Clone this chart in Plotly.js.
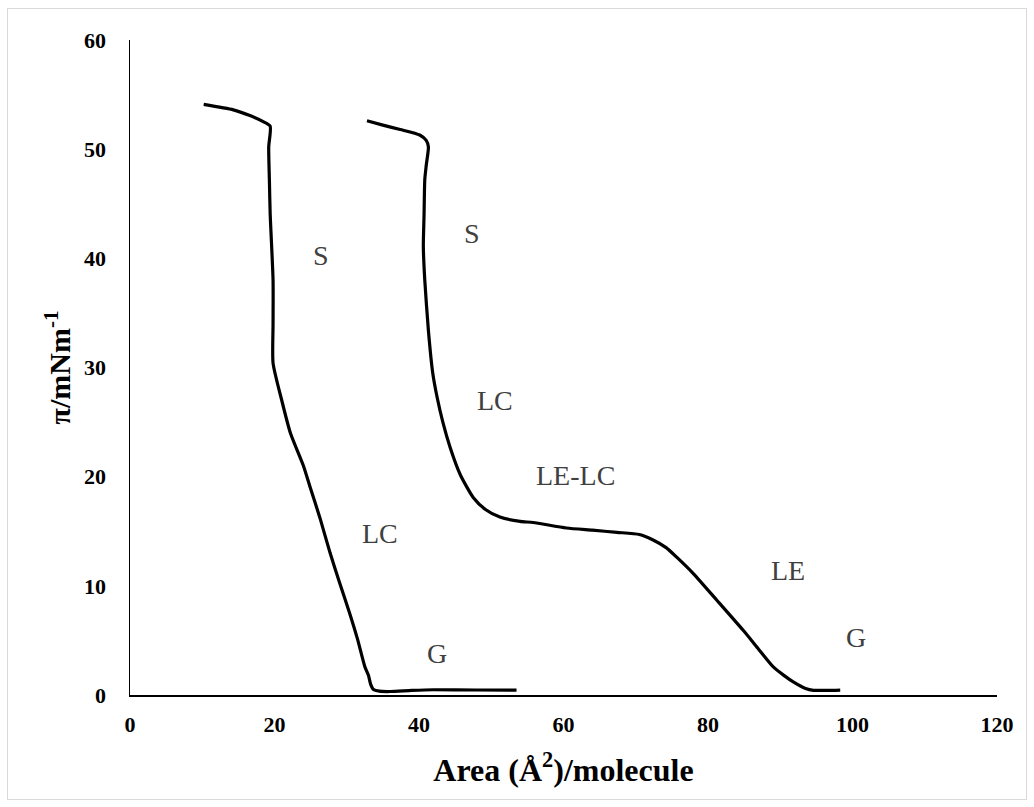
<!DOCTYPE html>
<html>
<head>
<meta charset="utf-8">
<script src="https://cdn.plot.ly/plotly-3.0.1.min.js"></script>
<style>
  html, body { margin: 0; padding: 0; background: #fff; }
  #wrap { position: relative; width: 1034px; height: 807px; }
  #chart { width: 1034px; height: 807px; }
  #frame { position: absolute; left: 7px; top: 8px; width: 1018px; height: 790px; border: 1px solid #d9d9d9; pointer-events: none; }
</style>
</head>
<body>
<div id="wrap"><div id="chart"></div><div id="frame"></div></div>
<script>
// Isotherm 1 (left curve)
const area1 = [10.2, 14.3, 16.5, 18.5, 19.4, 19.2, 19.3, 19.4, 19.8, 19.8, 19.8, 21.0, 22.2, 24.0, 24.9, 26.3, 27.7, 29.0, 30.4, 31.5, 32.5, 33.0, 33.3, 33.7, 34.5, 36.0, 39.0, 42.0, 48.0, 53.5];
const pi1   = [54.1, 53.6, 53.1, 52.5, 52.1, 50.2, 47.0, 44.1, 38.0, 34.0, 30.4, 27.0, 24.0, 21.0, 19.1, 16.2, 13.0, 10.3, 7.5, 5.1, 2.6, 1.8, 1.0, 0.5, 0.35, 0.32, 0.42, 0.48, 0.46, 0.45];

// Isotherm 2 (right curve)
const area2 = [32.8, 35.0, 37.4, 40.1, 41.0, 41.3, 41.0, 40.8, 40.7, 40.6, 40.8, 41.3, 41.9, 42.5, 43.3, 44.3, 45.7, 47.5, 49.2, 51.2, 54.0, 55.8, 60.4, 64.0, 67.4, 70.5, 72.4, 74.2, 75.7, 78.0, 81.2, 84.9, 87.0, 89.0, 90.5, 91.8, 93.5, 94.6, 96.5, 98.3];
const pi2   = [52.6, 52.2, 51.8, 51.3, 50.8, 50.2, 48.5, 47.2, 44.0, 41.1, 38.0, 33.4, 29.5, 27.3, 25.0, 22.7, 20.2, 18.1, 17.0, 16.3, 15.9, 15.8, 15.3, 15.1, 14.9, 14.7, 14.2, 13.5, 12.6, 11.1, 8.7, 5.9, 4.2, 2.6, 1.8, 1.2, 0.6, 0.43, 0.42, 0.45];

// Phase labels
const labelText = ["S", "S", "LC", "LE-LC", "LC", "LE", "G", "G"];
const labelX    = [26.5, 47.3, 50.5, 61.6, 34.6, 91.1, 42.5, 100.5];
const labelY    = [40.3, 42.3, 27.0, 20.1, 14.8, 11.4, 3.8, 5.3];

// Axis ticks
const xTicks = [0, 20, 40, 60, 80, 100, 120];
const yTicks = [0, 10, 20, 30, 40, 50, 60];

const serif = 'Liberation Serif, Times New Roman, serif';
const lineStyle = { color: '#000000', width: 3.2, shape: 'spline', smoothing: 0.6 };

const traces = [
  { x: area1, y: pi1, type: 'scatter', mode: 'lines', line: lineStyle, hoverinfo: 'skip' },
  { x: area2, y: pi2, type: 'scatter', mode: 'lines', line: lineStyle, hoverinfo: 'skip' }
];

const annotations = labelText.map((t, i) => ({
  x: labelX[i], y: labelY[i], xref: 'x', yref: 'y', text: t, showarrow: false,
  font: { family: serif, size: 28, color: '#404040' },
  xanchor: 'center', yanchor: 'middle'
}));

const layout = {
  width: 1034, height: 807,
  margin: { l: 130, r: 37, t: 40, b: 112 },
  paper_bgcolor: '#ffffff', plot_bgcolor: '#ffffff',
  showlegend: false,
  font: { family: serif, color: '#000000' },
  xaxis: {
    range: [0, 120], tickvals: xTicks, ticktext: xTicks.map(String),
    showgrid: false, zeroline: false, showline: true, linecolor: '#000000', linewidth: 1.5,
    ticks: '', ticklabelstandoff: 9,
    tickfont: { family: serif, size: 22, color: '#000000', weight: 'bold' },
    title: { text: '<b>Area (Å<sup>2</sup>)/molecule</b>', standoff: 22,
      font: { family: serif, size: 32, color: '#000000' } }
  },
  yaxis: {
    range: [0, 60], tickvals: yTicks, ticktext: yTicks.map(String),
    showgrid: false, zeroline: false, showline: true, linecolor: '#000000', linewidth: 1.5,
    ticks: '', ticklabelstandoff: 18,
    tickfont: { family: serif, size: 22, color: '#000000', weight: 'bold' },
    title: { text: '<b>π/mNm<sup>-1</sup></b>', standoff: 4,
      font: { family: serif, size: 30, color: '#000000' } }
  },
  annotations: annotations
};

Plotly.newPlot('chart', traces, layout, { staticPlot: true, displayModeBar: false });
</script>
</body>
</html>
